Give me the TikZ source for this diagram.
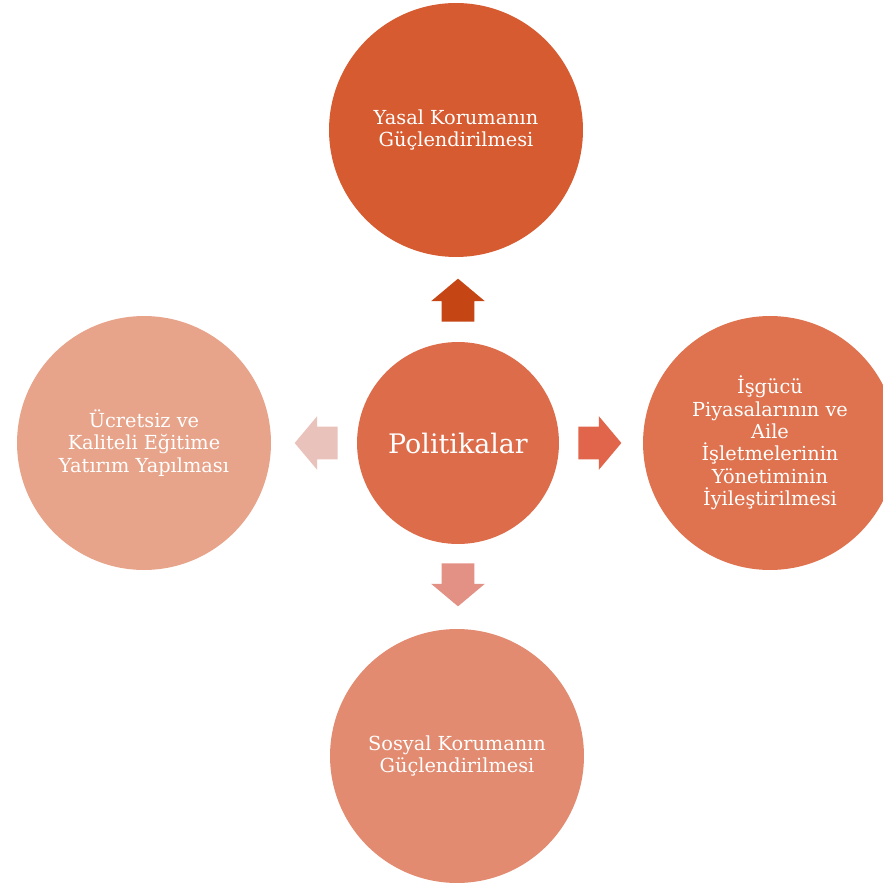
\documentclass[tikz,border=0pt]{standalone}
\usepackage{fontspec}
\setmainfont{DejaVu Serif}
\usetikzlibrary{shapes.arrows,positioning}

\definecolor{topc}{HTML}{D65B30}
\definecolor{topa}{HTML}{C54515}
\definecolor{midc}{HTML}{DD6C4A}
\definecolor{rightc}{HTML}{DF734F}
\definecolor{righta}{HTML}{E0654A}
\definecolor{leftc}{HTML}{E8A48A}
\definecolor{lefta}{HTML}{EAC2BC}
\definecolor{botc}{HTML}{E28B70}
\definecolor{bota}{HTML}{E39184}

\begin{document}
\begin{tikzpicture}[x=0.02cm, y=-0.02cm,
    topic/.style={circle, minimum size=5.08cm, inner sep=0pt, text=white, align=center, font=\fontsize{11}{12.7}\selectfont},
    hub/.style={circle, minimum size=4.04cm, inner sep=0pt, text=white, font=\fontsize{15.3}{17}\selectfont},
    blockarrow/.style={single arrow, minimum height=0.86cm, single arrow head extend=0.21cm, single arrow tip angle=100, anchor=tail},
    harrow/.style={blockarrow, inner xsep=0pt, inner ysep=0.32cm},
    varrow/.style={blockarrow, inner xsep=0.32cm, inner ysep=0pt}
]
\useasboundingbox (0,0) rectangle (882,884);

% Center
\node[hub, fill=midc] (politika) at (458,443) {Politikalar};

% Policies
\node[topic, fill=topc] (yasal) at (456,130) {Yasal Korumanın\\Güçlendirilmesi};
\node[topic, fill=rightc] (isgucu) at (770,443) {İşgücü\\Piyasalarının ve\\Aile\\İşletmelerinin\\Yönetiminin\\İyileştirilmesi};
\node[topic, fill=botc] (sosyal) at (457,756) {Sosyal Korumanın\\Güçlendirilmesi};
\node[topic, fill=leftc] (egitim) at (144,443) {Ücretsiz ve\\Kaliteli Eğitime\\Yatırım Yapılması};

% Arrows
\node[varrow, fill=topa, shape border rotate=90] (up) at (458,322) {};
\node[harrow, fill=righta] (right) at (578,443) {};
\node[varrow, fill=bota, shape border rotate=270] (down) at (458,563) {};
\node[harrow, fill=lefta, shape border rotate=180] (left) at (338,443) {};

\end{tikzpicture}
\end{document}
